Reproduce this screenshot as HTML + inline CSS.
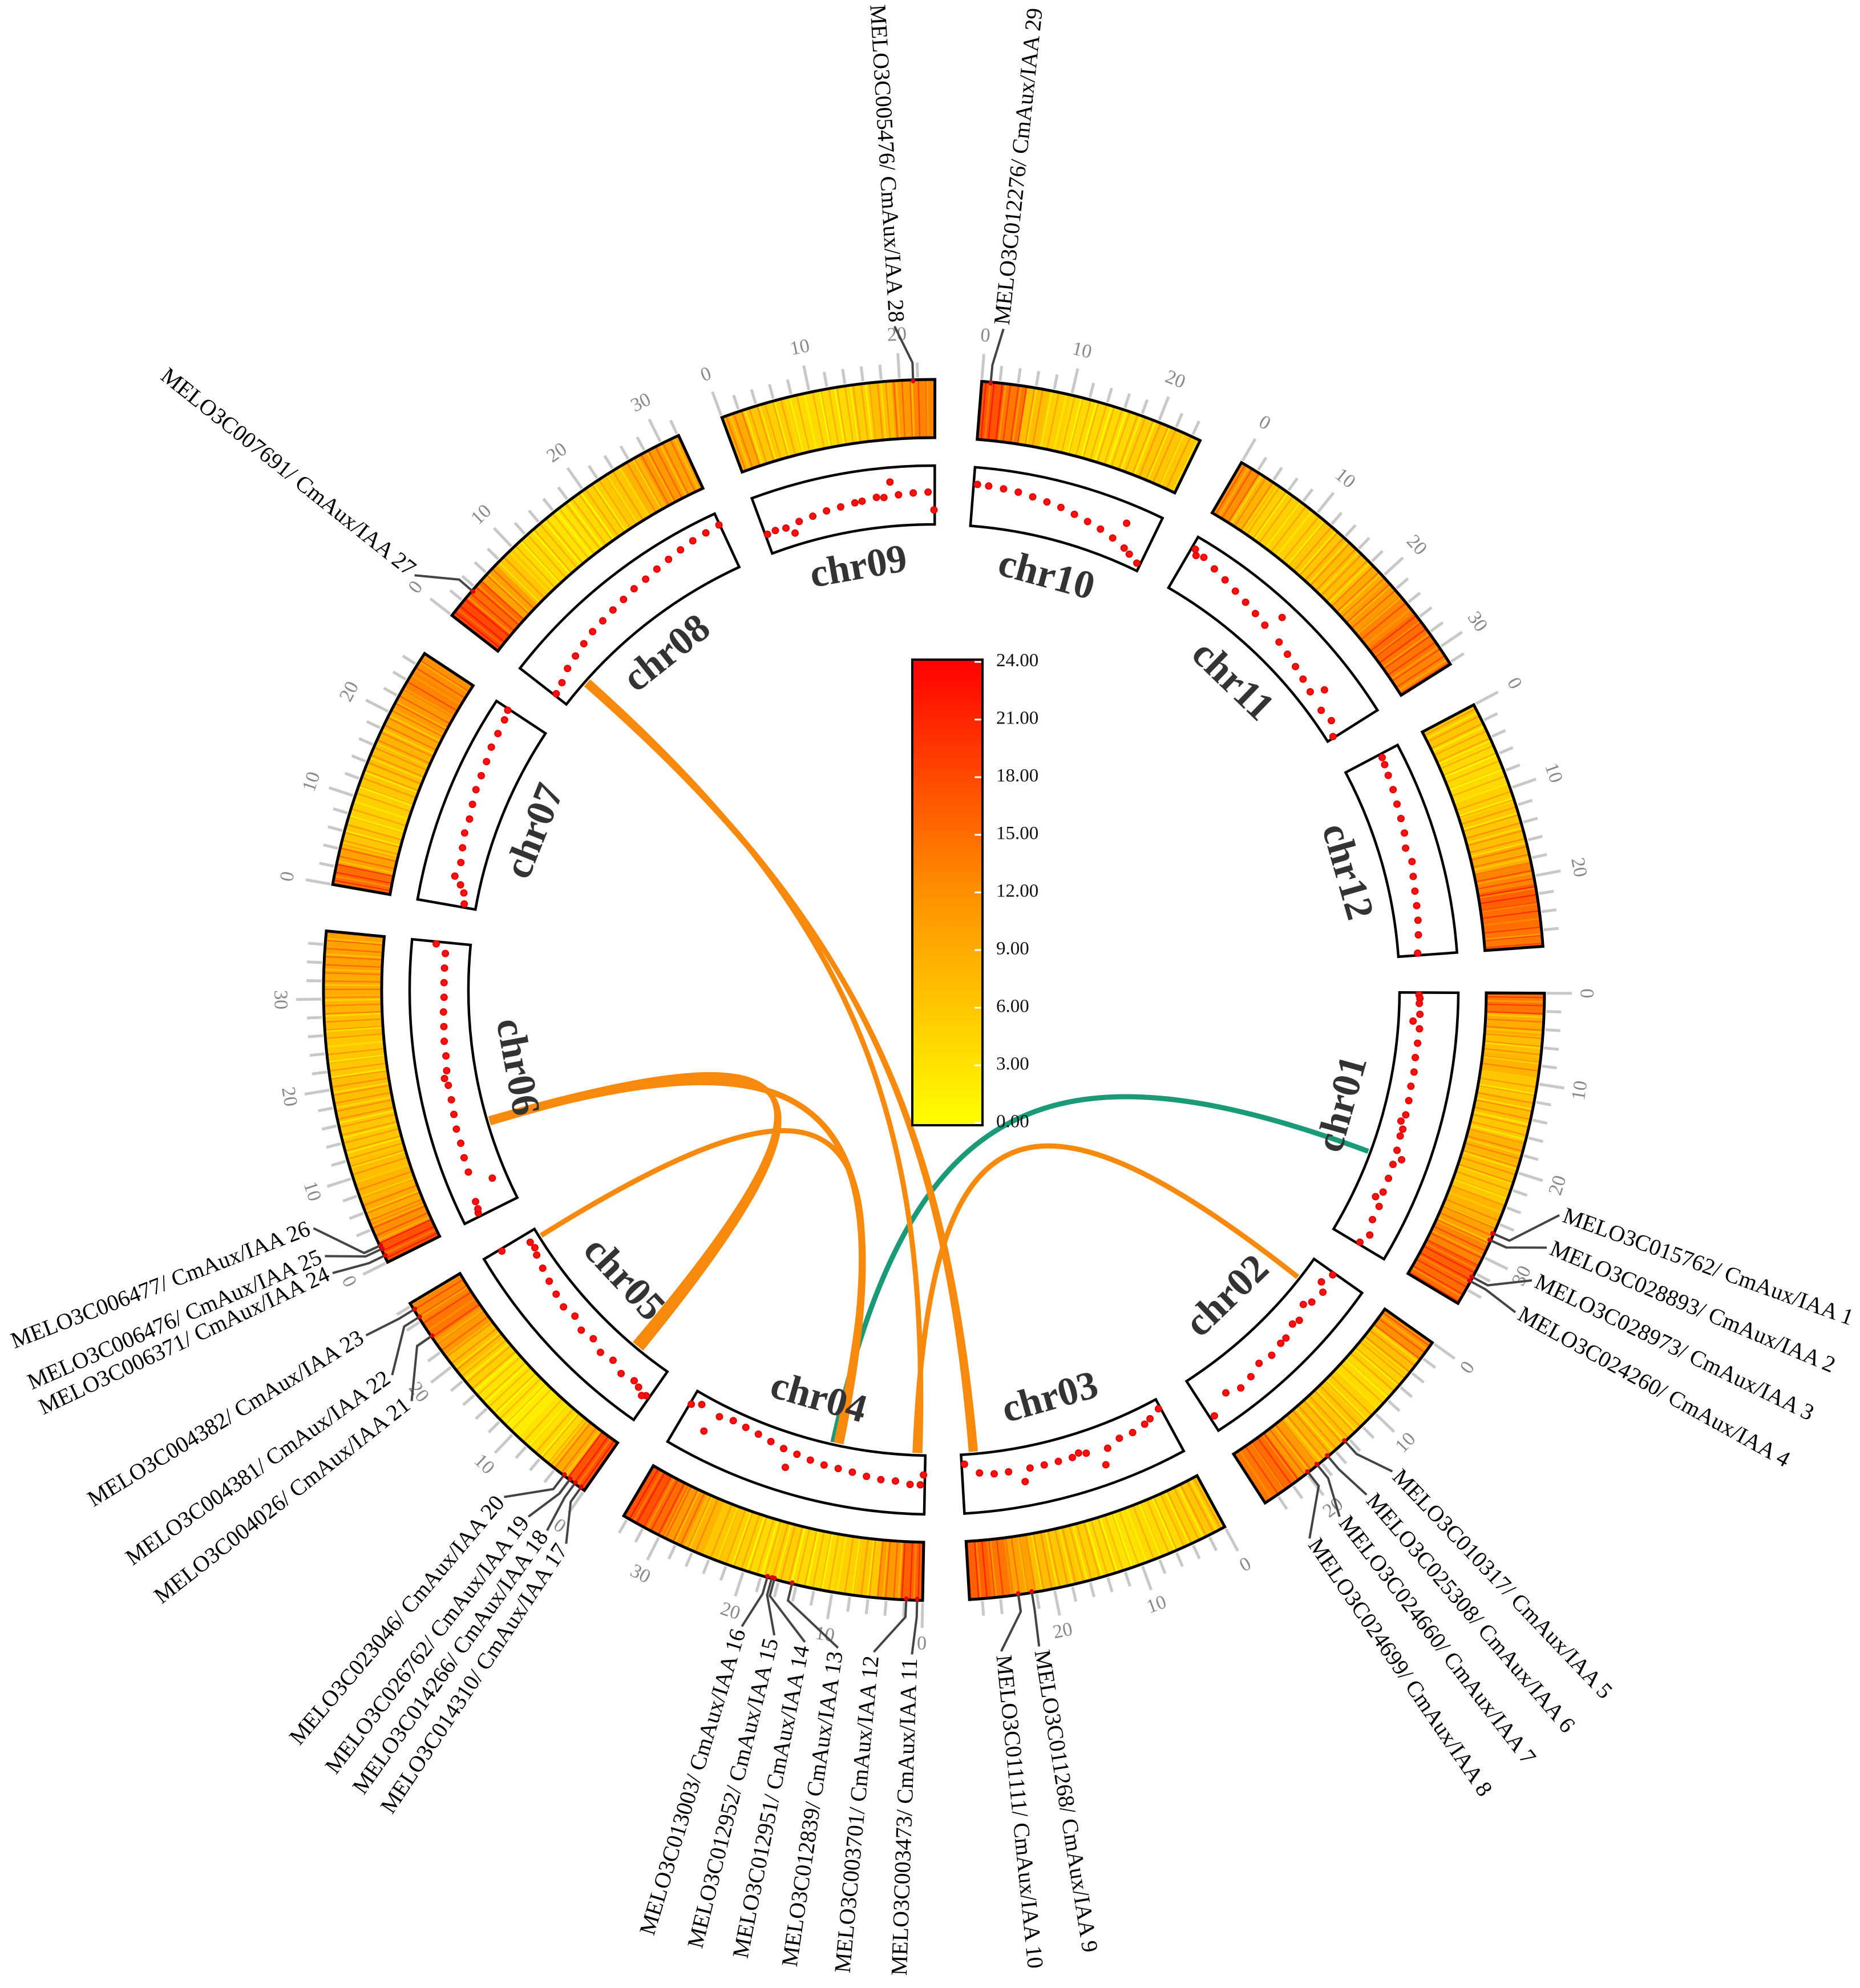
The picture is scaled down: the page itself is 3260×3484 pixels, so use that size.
<!DOCTYPE html>
<html><head><meta charset="utf-8">
<style>
html,body{margin:0;padding:0;background:#fff;}
svg{display:block;}
text{font-family:"Liberation Serif",serif;}
</style></head>
<body>
<svg id="chart" width="3260" height="3484" viewBox="0 0 3260 3484" xmlns="http://www.w3.org/2000/svg">
<defs>
<linearGradient id="cbar" x1="0" y1="1" x2="0" y2="0">
<stop offset="0" stop-color="#ffff00"/><stop offset="0.5" stop-color="#ff9000"/><stop offset="1" stop-color="#ff0000"/>
</linearGradient>
</defs>
<g id="root"></g>
</svg>
<script>
// ---- data ----
const chrNames = ["chr01","chr02","chr03","chr04","chr05","chr06","chr07","chr08","chr09","chr10","chr11","chr12"];
const chrLengths = [35.8,25.6,29.4,34.5,28.3,37.5,27.5,32.1,23.9,25.0,32.2,27.8];
// heatmap density per 2.5 Mb bin
const heat01 = [14,9,7,8,6,7,6,8,7,6,8,10,13,16,15];
const heat02 = [12,7,5,4,5,6,7,8,11,15,14];
const heat03 = [6,5,4,4,3,4,5,6,7,10,14,16];
const heat04 = [16,11,6,5,4,4,5,4,5,6,8,11,15,17];
const heat05 = [17,9,4,3,2,3,3,5,7,11,14,13];
const heat06 = [17,12,9,8,7,6,6,7,7,6,6,7,8,9,10,10];
const heat07 = [15,10,6,5,5,6,7,8,9,11,13,12];
const heat08 = [18,15,10,6,4,4,3,4,5,6,8,11,10];
const heat09 = [9,6,5,4,4,4,5,7,11,13];
const heat10 = [17,14,7,5,4,4,4,5,6,6];
const heat11 = [12,8,5,5,5,6,7,7,9,11,13,15,14,13];
const heat12 = [6,5,4,4,5,6,7,9,13,16,15,14];
const heatData = [heat01,heat02,heat03,heat04,heat05,heat06,heat07,heat08,heat09,heat10,heat11,heat12];
// scatter points [pos, value 0..1]
const dots01 = [[0.3,0.3],[0.8,0.32],[1.5,0.31],[3,0.33],[4,0.2],[5,0.34],[7,0.33],[9,0.32],[11,0.34],[13,0.33],[15,0.35],[17,0.36],[18,0.3],[19,0.38],[20,0.37],[22,0.4],[23,0.55],[24,0.42],[26,0.44],[28,0.45],[29,0.35],[30,0.5],[32,0.5],[34,0.6],[35.5,0.5]];
const dots02 = [[0.3,0.4],[2,0.3],[3,0.45],[5,0.4],[6,0.3],[8,0.45],[9,0.4],[11,0.5],[12,0.5],[14,0.55],[16,0.5],[18,0.6],[20,0.65],[22,0.55],[25,0.8]];
const dots03 = [[0.3,0.1],[2,0.2],[3,0.25],[5,0.3],[7,0.3],[9,0.4],[10,0.7],[12,0.35],[13,0.3],[14,0.35],[16,0.35],[18,0.35],[20,0.35],[21,0.6],[23,0.35],[25,0.35],[27,0.3],[29,0.1]];
const dots04 = [[0.2,0.3],[0.6,0.5],[2,0.5],[4,0.45],[6,0.45],[8,0.42],[10,0.38],[12,0.36],[14,0.35],[16,0.32],[18,0.28],[19,0.6],[20,0.25],[22,0.2],[24,0.15],[26,0.12],[28,0.1],[30,0.15],[31,0.55],[33,0.1],[34.3,0.2]];
const dots05 = [[0.5,0.55],[1,0.6],[2,0.5],[3,0.45],[5,0.5],[7,0.4],[9,0.45],[11,0.35],[13,0.4],[15,0.3],[17,0.35],[19,0.3],[21,0.25],[23,0.2],[25,0.15],[26,0.1],[27,0.12],[28,0.7]];
const dots06 = [[0.5,0.75],[1,0.72],[2,0.7],[4,0.2],[6,0.6],[8,0.58],[10,0.55],[12,0.55],[14,0.52],[16,0.5],[18,0.5],[19,0.55],[20,0.48],[22,0.45],[24,0.45],[26,0.43],[28,0.42],[30,0.4],[32,0.4],[34,0.4],[36,0.4],[37.2,0.6]];
const dots07 = [[0.5,0.15],[2,0.2],[3,0.3],[4,0.45],[6,0.4],[8,0.45],[10,0.5],[12,0.5],[14,0.55],[16,0.6],[18,0.62],[20,0.65],[22,0.7],[24,0.72],[26,0.75],[27.3,0.8]];
const dots08 = [[0.3,0.2],[2,0.25],[4,0.35],[6,0.4],[8,0.45],[10,0.5],[12,0.52],[14,0.55],[16,0.58],[18,0.62],[20,0.64],[22,0.68],[24,0.72],[26,0.76],[28,0.8],[30,0.82],[32,0.85]];
const dots09 = [[0.3,0.3],[1.5,0.32],[3,0.3],[4,0.15],[5,0.35],[7,0.38],[9,0.42],[11,0.44],[13,0.47],[14,0.48],[16,0.52],[17,0.5],[18,0.8],[19,0.53],[21,0.55],[23,0.56],[23.8,0.2]];
const dots10 = [[0.5,0.75],[2,0.74],[4,0.72],[6,0.7],[8,0.66],[10,0.62],[12,0.58],[14,0.52],[16,0.46],[18,0.4],[20,0.32],[21,0.7],[22,0.22],[23,0.15],[24.5,0.05]];
const dots11 = [[0.5,0.85],[1,0.75],[2,0.8],[4,0.72],[6,0.66],[8,0.6],[10,0.55],[12,0.5],[14,0.45],[15,0.8],[17,0.4],[19,0.35],[21,0.3],[23,0.25],[25,0.2],[26,0.45],[28,0.15],[30,0.2],[32,0.05]];
const dots12 = [[0.5,0.7],[1.5,0.68],[3,0.65],[5,0.62],[7,0.58],[9,0.55],[11,0.52],[13,0.45],[15,0.5],[17,0.45],[19,0.42],[21,0.4],[23,0.38],[25,0.35],[27.5,0.3]];
const dotData = [dots01,dots02,dots03,dots04,dots05,dots06,dots07,dots08,dots09,dots10,dots11,dots12];
// links: [chrA index, posA, chrB index, posB, type]
const links = [
 [0,23.5,3,13.5,"g"],
 [1,3.5,3,1.5,"o"],
 [7,4.0,2,27.3,"o"],
 [7,4.3,2,27.9,"o"],
 [7,4.6,3,0.8,"o"],
 [5,11.5,4,5.0,"o"],
 [5,11.8,4,5.6,"o"],
 [5,12.1,4,6.2,"o"],
 [5,11.6,3,12.8,"o"],
 [5,12.0,3,12.3,"o"],
 [4,27.0,3,13.0,"o"]
];
// genes: [chr index, pos, label angle (deg), label]
const genes = [
 [0,27.2,109.8,"MELO3C015762/ CmAux/IAA 1"],[0,28.0,112.8,"MELO3C028893/ CmAux/IAA 2"],
 [0,32.5,115.9,"MELO3C028973/ CmAux/IAA 3"],[0,33.0,119.0,"MELO3C024260/ CmAux/IAA 4"],
 [1,14.5,136.4,"MELO3C010317/ CmAux/IAA 5"],[1,17.0,139.4,"MELO3C025308/ CmAux/IAA 6"],
 [1,18.5,142.4,"MELO3C024660/ CmAux/IAA 7"],[1,19.8,145.6,"MELO3C024699/ CmAux/IAA 8"],
 [2,22.5,170.9,"MELO3C011268/ CmAux/IAA 9"],[2,24.0,174.2,"MELO3C011111/ CmAux/IAA 10"],
 [3,0.6,181.9,"MELO3C003473/ CmAux/IAA 11"],[3,1.8,185.2,"MELO3C003701/ CmAux/IAA 12"],
 [3,14.5,188.3,"MELO3C012839/ CmAux/IAA 13"],[3,16.5,191.2,"MELO3C012951/ CmAux/IAA 14"],
 [3,16.8,193.9,"MELO3C012952/ CmAux/IAA 15"],[3,17.3,196.8,"MELO3C013003/ CmAux/IAA 16"],
 [4,0.5,213.6,"MELO3C014310/ CmAux/IAA 17"],[4,1.3,215.6,"MELO3C014266/ CmAux/IAA 18"],
 [4,2.0,217.6,"MELO3C026762/ CmAux/IAA 19"],[4,2.8,220.3,"MELO3C023046/ CmAux/IAA 20"],
 [4,24.0,231.8,"MELO3C004026/ CmAux/IAA 21"],[4,26.5,234.6,"MELO3C004381/ CmAux/IAA 22"],
 [4,27.5,238.7,"MELO3C004382/ CmAux/IAA 23"],[5,0.8,244.8,"MELO3C006371/ CmAux/IAA 24"],
 [5,1.6,246.4,"MELO3C006476/ CmAux/IAA 25"],[5,2.0,249.0,"MELO3C006477/ CmAux/IAA 26"],
 [7,3.5,308.6,"MELO3C007691/ CmAux/IAA 27"],[8,21.5,356.6,"MELO3C005476/ CmAux/IAA 28"],
 [9,1.0,6.0,"MELO3C012276/ CmAux/IAA 29"]
];
const cbarTicks = [0,3,6,9,12,15,18,21,24];
const cbarLabels = ["0.00","3.00","6.00","9.00","12.00","15.00","18.00","21.00","24.00"];

// ---- geometry ----
const NS="http://www.w3.org/2000/svg";
const root=document.getElementById('root');
const CX=1637, CY=1735;
const R_HO=1070, R_HI=968, R_BO=919, R_BI=816, R_LINK=812;
const START=90.3, GAP=4.4;
const totalLen=chrLengths.reduce((a,b)=>a+b,0);
const K=(360-12*GAP)/totalLen;
const chrStart=[]; {let a=START; for(let i=0;i<12;i++){chrStart.push(a); a+=chrLengths[i]*K+GAP;}}
function ang(c,p){return chrStart[c]+p*K;}
function pt(a,r){const t=a*Math.PI/180;return [CX+r*Math.sin(t),CY-r*Math.cos(t)];}
function el(tag,attrs,parent){const e=document.createElementNS(NS,tag);for(const k in attrs)e.setAttribute(k,attrs[k]);(parent||root).appendChild(e);return e;}
function sector(a0,a1,r0,r1){const p1=pt(a0,r1),p2=pt(a1,r1),p3=pt(a1,r0),p4=pt(a0,r0);const lg=(a1-a0)>180?1:0;
 return `M${p1[0]},${p1[1]} A${r1},${r1} 0 ${lg} 1 ${p2[0]},${p2[1]} L${p3[0]},${p3[1]} A${r0},${r0} 0 ${lg} 0 ${p4[0]},${p4[1]} Z`;}
function heatColor(v){const t=Math.max(0,Math.min(1,v/24));let r,g;
 if(t<0.5){r=255;g=255-(255-144)*(t/0.5);}else{r=255;g=144*(1-(t-0.5)/0.5);}return `rgb(${r|0},${g|0},0)`;}

// links (drawn first, under tracks)
const gl=el('g',{});


links.forEach((L,i)=>{
 const a0=ang(L[0],L[1]),a1=ang(L[2],L[3]);
 const p0=pt(a0,R_LINK),p3=pt(a1,R_LINK),c1=pt(a0,R_LINK*0.25),c2=pt(a1,R_LINK*0.25);
 const path=el('path',{d:`M${p0[0]},${p0[1]} C${c1[0]},${c1[1]} ${c2[0]},${c2[1]} ${p3[0]},${p3[1]}`,fill:'none',stroke:L[4]==='g'?'#1b9a78':'#f78a0c','stroke-width':9},gl);
 
 
});

for(let c=0;c<12;c++){
 const g=el('g',{});
 
 
 const a0=chrStart[c],a1=chrStart[c]+chrLengths[c]*K;
 const bins=heatData[c];const bw=chrLengths[c]/bins.length;
 bins.forEach((v,j)=>{
  const s=el('path',{d:sector(ang(c,j*bw),ang(c,Math.min(chrLengths[c],(j+1)*bw))+0.05,R_HI,R_HO),fill:heatColor(v),stroke:'none'},g);
  
  
 });
 // fine texture stripes (decorative)
 for(let p=0.4;p<chrLengths[c];p+=0.9){
  const v=bins[Math.min(bins.length-1,Math.floor(p/bw))];
  const s=el('path',{d:sector(ang(c,p),ang(c,p+0.15),R_HI,R_HO),fill:heatColor(v+7),stroke:'none',opacity:0.7},g);
  
  
 }
 for(let p=0.85;p<chrLengths[c];p+=1.7){
  const v=bins[Math.min(bins.length-1,Math.floor(p/bw))];
  const s=el('path',{d:sector(ang(c,p),ang(c,p+0.2),R_HI,R_HO),fill:heatColor(Math.max(0,v-4)),stroke:'none',opacity:0.8},g);
  
  
 }
 const hb=el('path',{d:sector(a0,a1,R_HI,R_HO),fill:'none',stroke:'#000','stroke-width':5},g);
 
 
 for(let p=0;p<=chrLengths[c];p+=2){
  const a=ang(c,p);const major=(p%10===0);
  const q0=pt(a,R_HO+4),q1=pt(a,R_HO+(major?48:30));
  const t=el('line',{x1:q0[0],y1:q0[1],x2:q1[0],y2:q1[1],stroke:'#c8c8c8','stroke-width':5},g);
  
  
  if(major){
   const lp=pt(a,R_HO+78);let rot=a;if(a%360>90&&a%360<270)rot=a+180;
   const tx=el('text',{x:lp[0],y:lp[1],'font-size':34,fill:'#888','text-anchor':'middle','dominant-baseline':'middle',transform:`rotate(${rot} ${lp[0]} ${lp[1]})`},g);
   tx.textContent=String(p);
   
   
  }
 }
 const bx=el('path',{d:sector(a0,a1,R_BI,R_BO),fill:'#fff',stroke:'#000','stroke-width':4.5},g);
 
 
 dotData[c].forEach(d=>{
  const q=pt(ang(c,d[0]),R_BI+8+d[1]*(R_BO-R_BI-16));
  const dc=el('circle',{cx:q[0],cy:q[1],r:5.5,fill:'#ff1010',stroke:'#e00000','stroke-width':2},g);
  
  
 });
 const am=(a0+a1)/2;const lp=pt(am,748);let rot=am%360;if(rot>90&&rot<270)rot+=180;
 const lab=el('text',{x:lp[0],y:lp[1],'font-size':70,'font-weight':'bold',fill:'#333','text-anchor':'middle','dominant-baseline':'middle',transform:`rotate(${rot} ${lp[0]} ${lp[1]})`},g);
 lab.textContent=chrNames[c];
 
 
}

const gg=el('g',{});


genes.forEach(G=>{
 const a=ang(G[0],G[1]);const la=G[2];
 const p0=pt(a,R_HO-6),p1=pt(a,R_HO+30),p2=pt(la,1165);
 const ln=el('polyline',{points:`${p0[0]},${p0[1]} ${p1[0]},${p1[1]} ${p2[0]},${p2[1]}`,fill:'none',stroke:'#444','stroke-width':4},gg);
 
 
 const mk=pt(a,R_HO-2);
 const m=el('circle',{cx:mk[0],cy:mk[1],r:4,fill:'#e00000'},gg);
 
 
 const tp=pt(la,1172);const n=((la%360)+360)%360;const right=n<180;
 const rot=right?n-90:n+90;
 const tx=el('text',{x:tp[0],y:tp[1],'font-size':40,fill:'#000','text-anchor':right?'start':'end','dominant-baseline':'middle',transform:`rotate(${rot} ${tp[0]} ${tp[1]})`},gg);
 tx.textContent=G[3];
 
 
});

const cb=el('g',{});


const CB_X=1599,CB_W=123,CB_Y0=1160,CB_Y1=1968;
const cr=el('rect',{x:CB_X,y:CB_Y0-4,width:CB_W,height:CB_Y1-CB_Y0+8,fill:'url(#cbar)',stroke:'#000','stroke-width':4},cb);


function cbY(v){return CB_Y1-(v/24)*(CB_Y1-CB_Y0);}
cbarTicks.forEach((v,i)=>{
 const y=cbY(v);
 const t=el('line',{x1:CB_X+CB_W-14,y1:y,x2:CB_X+CB_W-2,y2:y,stroke:'#fff','stroke-width':3},cb);
 
 
 const tx=el('text',{x:CB_X+CB_W+24,y:y,'font-size':33,fill:'#111','dominant-baseline':'middle'},cb);
 tx.textContent=cbarLabels[i];
 
 
});
</script>
</body></html>
